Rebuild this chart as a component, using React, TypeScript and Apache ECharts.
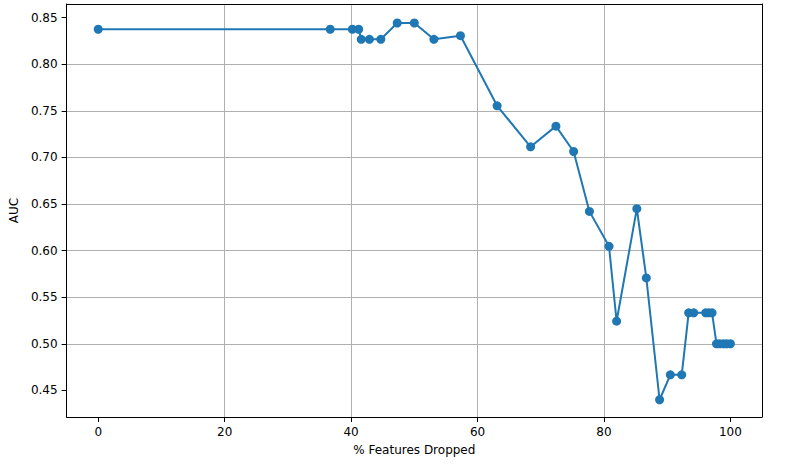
import React, { useEffect, useRef } from "react";
import * as echarts from "echarts";

const pctDropped = [
  0, 36.7, 40.2, 41.2, 41.6, 42.9, 44.7, 47.3, 50.0, 53.1, 57.3, 63.1, 68.4, 72.4, 75.2,
  77.7, 80.8, 82.0, 85.2, 86.7, 88.8, 90.5, 92.3, 93.4, 94.2, 96.1, 96.6, 97.1, 97.8,
  98.3, 98.9, 99.4, 100,
];
const auc = [
  0.8376, 0.8376, 0.8376, 0.8376, 0.8268, 0.8268, 0.8268, 0.8443, 0.8443, 0.8268, 0.8307,
  0.7554, 0.7114, 0.7336, 0.7064, 0.6421, 0.6046, 0.5242, 0.645, 0.5707, 0.4399, 0.4667,
  0.4667, 0.5332, 0.5332, 0.5332, 0.5332, 0.5332, 0.5, 0.5, 0.5, 0.5, 0.5,
];
const xTicks = [0, 20, 40, 60, 80, 100];
const yTicks = [0.45, 0.5, 0.55, 0.6, 0.65, 0.7, 0.75, 0.8, 0.85];

const FONT = "DejaVu Sans";
const X_MIN = -5;
const X_MAX = 105;
const Y_MIN = 0.4214;
const Y_MAX = 0.8647;

export default function App() {
  const ref = useRef<HTMLDivElement>(null);
  useEffect(() => {
    if (!ref.current) return;
    const chart = echarts.init(ref.current, null, { renderer: "svg" });
    const data = pctDropped.map((x, i) => [x, auc[i]]);
    const borderAxis = {
      type: "value",
      axisLine: { show: true, onZero: false, lineStyle: { color: "#000", width: 1 } },
      axisTick: { show: false },
      axisLabel: { show: false },
      splitLine: { show: false },
    };
    chart.setOption({
      animation: false,
      backgroundColor: "#ffffff",
      grid: {
        left: 64,
        right: 45,
        top: 4,
        bottom: 54,
      },
      xAxis: [
        {
          type: "value",
          min: X_MIN,
          max: X_MAX,
          splitNumber: 5,
          name: "% Features Dropped",
          nameLocation: "middle",
          nameGap: 27,
          nameTextStyle: { fontFamily: FONT, fontSize: 12, color: "#000" },
          axisLine: { show: true, onZero: false, lineStyle: { color: "#000", width: 1 } },
          axisTick: {
            show: true,
            length: 5,
            inside: false,
            customValues: xTicks,
            lineStyle: { color: "#000" },
          },
          axisLabel: {
            customValues: xTicks,
            fontFamily: FONT,
            fontSize: 12,
            color: "#000",
            margin: 9,
            formatter: (v: number) => String(v),
          },
          splitLine: {
            show: true,
            showMinLine: false,
            showMaxLine: false,
            lineStyle: { color: "#b0b0b0", width: 1 },
          },
        },
        { ...borderAxis, position: "top", min: X_MIN, max: X_MAX },
      ],
      yAxis: [
        {
          type: "value",
          min: Y_MIN,
          max: Y_MAX,
          splitNumber: 9,
          name: "AUC",
          nameLocation: "middle",
          nameGap: 44,
          nameRotate: 90,
          nameTextStyle: { fontFamily: FONT, fontSize: 12, color: "#000" },
          axisLine: { show: true, onZero: false, lineStyle: { color: "#000", width: 1 } },
          axisTick: {
            show: true,
            length: 5,
            inside: false,
            customValues: yTicks,
            lineStyle: { color: "#000" },
          },
          axisLabel: {
            customValues: yTicks,
            fontFamily: FONT,
            fontSize: 12,
            color: "#000",
            margin: 9,
            formatter: (v: number) => v.toFixed(2),
          },
          splitLine: {
            show: true,
            showMinLine: false,
            showMaxLine: false,
            lineStyle: { color: "#b0b0b0", width: 1 },
          },
        },
        { ...borderAxis, position: "right", min: Y_MIN, max: Y_MAX },
      ],
      series: [
        {
          type: "line",
          data,
          xAxisIndex: 0,
          yAxisIndex: 0,
          symbol: "circle",
          symbolSize: 9,
          showAllSymbol: true,
          lineStyle: { color: "#1f77b4", width: 2 },
          itemStyle: { color: "#1f77b4" },
          z: 3,
        },
      ],
    });
    return () => chart.dispose();
  }, []);
  return (
    <div
      ref={ref}
      style={{ position: "absolute", left: 0, top: 0, width: 807, height: 471 }}
    />
  );
}
